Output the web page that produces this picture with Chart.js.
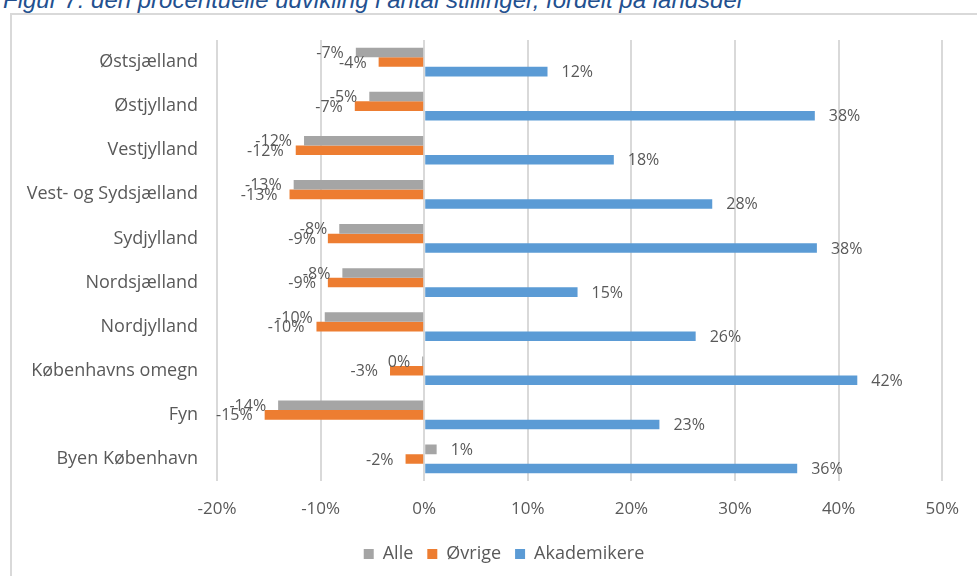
<!DOCTYPE html>
<html>
<head>
<meta charset="utf-8">
<script src="https://cdn.jsdelivr.net/npm/chart.js@4/dist/chart.umd.min.js"></script>
<style>
  body { margin: 0; background: #fff; overflow: hidden; }
  #title { position: absolute; left: 3px; top: -12px; font: italic 24px "Liberation Sans", Arial, sans-serif;
           color: #23508f; white-space: nowrap; line-height: 24px; }
  #frame { position: absolute; left: 10px; top: 13px; width: 1000px; height: 600px;
           border-left: 2px solid #d9d9d9; border-top: 2px solid #d9d9d9; }
  #c { position: absolute; left: 0; top: 0; }
</style>
</head>
<body>
<div id="title">Figur 7: den procentuelle udvikling i antal stillinger, fordelt på landsdel</div>
<div id="frame"></div>
<canvas id="c" width="977" height="576"></canvas>
<script>
const regions = ['Østsjælland', 'Østjylland', 'Vestjylland', 'Vest- og Sydsjælland', 'Sydjylland',
  'Nordsjælland', 'Nordjylland', 'Københavns omegn', 'Fyn', 'Byen København'];
const alle = [-6.6, -5.3, -11.6, -12.6, -8.2, -7.9, -9.6, -0.2, -14.1, 1.2];
const ovrige = [-4.4, -6.7, -12.4, -13.0, -9.3, -9.3, -10.4, -3.3, -15.4, -1.8];
const akademikere = [11.9, 37.7, 18.3, 27.8, 37.9, 14.8, 26.2, 41.8, 22.7, 36.0];
const xTicks = [-20, -10, 0, 10, 20, 30, 40, 50];

const txt = '#595959';
const fontFam = '"Open Sans", Lato, sans-serif';

function pct(v) {
  const r = Math.round(Math.abs(v)) * Math.sign(v);
  return (r === 0 ? 0 : r) + '%';
}

// simple "outside end" value labels
const valueLabels = {
  id: 'valueLabels',
  afterLayout(chart) {
    // legend in the original is centred on the whole frame, not the plot
    chart.legend.left += 25;
    chart.legend.right += 25;
  },
  afterDatasetsDraw(chart) {
    const ctx = chart.ctx;
    ctx.save();
    ctx.font = '16px ' + fontFam;
    ctx.fillStyle = txt;
    ctx.textBaseline = 'middle';
    chart.data.datasets.forEach((ds, i) => {
      const meta = chart.getDatasetMeta(i);
      meta.data.forEach((bar, j) => {
        const v = ds.data[j];
        if (v < 0) {
          ctx.textAlign = 'right';
          ctx.fillText(pct(v), bar.x - 12, bar.y + 1);
        } else {
          ctx.textAlign = 'left';
          ctx.fillText(pct(v), bar.x + 14, bar.y + 1);
        }
      });
    });
    ctx.restore();
  }
};

new Chart(document.getElementById('c'), {
  type: 'bar',
  data: {
    labels: regions,
    datasets: [
      { label: 'Alle', data: alle, backgroundColor: '#a5a5a5' },
      { label: 'Øvrige', data: ovrige, backgroundColor: '#ed7d31' },
      { label: 'Akademikere', data: akademikere, backgroundColor: '#5b9bd5' }
    ]
  },
  options: {
    indexAxis: 'y',
    responsive: false,
    animation: false,
    devicePixelRatio: 1,
    categoryPercentage: 0.65,
    barPercentage: 1,
    layout: { padding: { left: 10, top: 40, right: 29, bottom: 3 } },
    scales: {
      x: {
        min: -20, max: 50,
        afterBuildTicks: (s) => { s.ticks = xTicks.map(v => ({ value: v })); },
        afterFit: (s) => { s.height = 50; },
        grid: { color: '#d9d9d9', lineWidth: 2, drawTicks: false },
        border: { display: false },
        ticks: { color: txt, padding: 18, font: { family: fontFam, size: 17 }, callback: v => v + '%' }
      },
      y: {
        afterFit: (s) => { s.width = 207; },
        grid: { display: false, drawTicks: false },
        border: { display: false },
        ticks: { color: txt, padding: 19, font: { family: fontFam, size: 18 } }
      }
    },
    plugins: {
      legend: {
        position: 'bottom',
        labels: { color: txt, boxWidth: 10, boxHeight: 10, padding: 14, font: { family: fontFam, size: 18 } }
      },
      tooltip: { enabled: false }
    }
  },
  plugins: [valueLabels]
});
</script>
</body>
</html>
